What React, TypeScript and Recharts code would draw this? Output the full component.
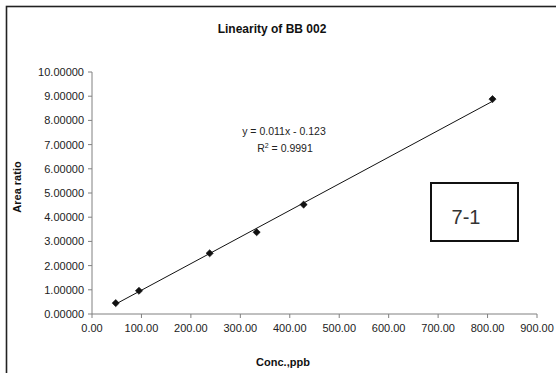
import { ComposedChart, Scatter, XAxis, YAxis, Label, Customized } from 'recharts';

// concentration (ppb) vs area ratio
const conc = [48, 95, 238, 333, 428, 810];
const areaRatio = [0.45, 0.96, 2.51, 3.38, 4.52, 8.88];

// fitted line end points
const trendConc = [48, 810];
const trendRatio = [0.41, 8.79];

const xTicks = [0, 100, 200, 300, 400, 500, 600, 700, 800, 900];
const yTicks = [0, 1, 2, 3, 4, 5, 6, 7, 8, 9, 10];

const title = 'Linearity of BB 002';
const xTitle = 'Conc.,ppb';
const yTitle = 'Area ratio';
const equation = 'y = 0.011x - 0.123';
const rSquared = '0.9991';
const boxLabel = '7-1';

const points = conc.map((x, i) => ({ x, y: areaRatio[i] }));
const trend = trendConc.map((x, i) => ({ x, y: trendRatio[i] }));

const FONT = '"Liberation Sans", Arial, sans-serif';

const Diamond = (props: any) => {
  const { cx, cy } = props;
  if (cx == null || cy == null) return null;
  const r = 3.6;
  return (
    <polygon
      points={`${cx},${cy - r} ${cx + r},${cy} ${cx},${cy + r} ${cx - r},${cy}`}
      fill="#111"
      stroke="#111"
      strokeWidth={0.6}
    />
  );
};

const Annotations = () => (
  <g fontFamily={FONT}>
    <rect x={6.5} y={6.5} width={560} height={380} fill="none" stroke="#222" strokeWidth={1.6} />
    <text x={272} y={33} textAnchor="middle" fontSize={12} fontWeight="bold" fill="#111">
      {title}
    </text>
    <text x={283} y={366} textAnchor="middle" fontSize={11} fontWeight="bold" fill="#111">
      {xTitle}
    </text>
    <text x={284} y={135} textAnchor="middle" fontSize={10.5} fill="#222">
      {equation}
    </text>
    <text x={285} y={152} textAnchor="middle" fontSize={10.5} fill="#222">
      R<tspan dy={-4} fontSize={7}>2</tspan>
      <tspan dy={4}> = {rSquared}</tspan>
    </text>
    <rect x={431} y={183} width={87} height={58} fill="#fff" stroke="#111" strokeWidth={2} />
    <text x={466} y={224} textAnchor="middle" fontSize={20} fill="#333">
      {boxLabel}
    </text>
  </g>
);

export default function App() {
  return (
    <div style={{ position: 'absolute', left: 0, top: 0, width: 556, height: 373, background: '#fff' }}>
      <ComposedChart
        width={556}
        height={373}
        margin={{ top: 72, right: 19, bottom: 19, left: 6 }}
      >
        <Customized component={Annotations} />
        <XAxis
          type="number"
          dataKey="x"
          domain={[0, 900]}
          ticks={xTicks}
          interval={0}
          height={40}
          tickFormatter={(v: number) => v.toFixed(2)}
          stroke="#808080"
          tickSize={4}
          tick={{ fill: '#222', fontSize: 11, fontFamily: FONT }}
          tickMargin={6}
        />
        <YAxis
          type="number"
          dataKey="y"
          domain={[0, 10]}
          ticks={yTicks}
          interval={0}
          width={86}
          tickFormatter={(v: number) => v.toFixed(5)}
          stroke="#808080"
          tickSize={4}
          tick={{ fill: '#222', fontSize: 11, fontFamily: FONT }}
          tickMargin={4}
        >
          <Label
            value={yTitle}
            angle={-90}
            position="insideLeft"
            offset={11}
            dy={-6}
            style={{ fontFamily: FONT, fontSize: 11, fontWeight: 'bold', fill: '#111', textAnchor: 'middle' }}
          />
        </YAxis>
        <Scatter
          data={trend}
          line={{ stroke: '#111', strokeWidth: 1 }}
          shape={() => null}
          isAnimationActive={false}
        />
        <Scatter data={points} shape={Diamond} isAnimationActive={false} />
      </ComposedChart>
    </div>
  );
}
